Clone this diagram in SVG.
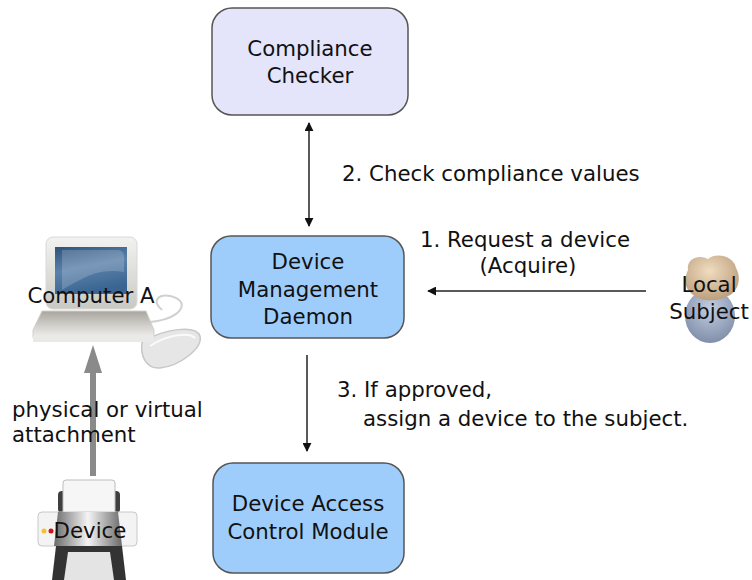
<svg xmlns="http://www.w3.org/2000/svg" width="752" height="580" viewBox="0 0 752 580">
  <defs>
    <style>
      .lbl { font-family: "DejaVu Sans", "Liberation Sans", sans-serif; font-size: 21.3px; fill: #111; }
      .mid { text-anchor: middle; }
      .box { stroke: #555; stroke-width: 1.5; }
      .conn { stroke: #222; stroke-width: 1.5; fill: none; }
    </style>
    <marker id="arr" viewBox="0 0 10 10" refX="9" refY="5" markerWidth="9" markerHeight="9" markerUnits="userSpaceOnUse" orient="auto-start-reverse">
      <path d="M0,0 L10,5 L0,10 z" fill="#111"/>
    </marker>
    <linearGradient id="screen" x1="0" y1="0" x2="0.3" y2="1">
      <stop offset="0" stop-color="#2e527c"/>
      <stop offset="0.5" stop-color="#5d82aa"/>
      <stop offset="1" stop-color="#3a6592"/>
    </linearGradient>
    <linearGradient id="bezel" x1="0" y1="0" x2="0" y2="1">
      <stop offset="0" stop-color="#f2f2f0"/>
      <stop offset="1" stop-color="#c9c9c4"/>
    </linearGradient>
    <linearGradient id="kbd" x1="0" y1="0" x2="0" y2="1">
      <stop offset="0" stop-color="#a9a59e"/>
      <stop offset="0.6" stop-color="#d6d4d0"/>
      <stop offset="1" stop-color="#f0f0ee"/>
    </linearGradient>
    <linearGradient id="drum" x1="0" y1="0" x2="1" y2="0">
      <stop offset="0" stop-color="#6a6a6a"/>
      <stop offset="0.5" stop-color="#f4f4f4"/>
      <stop offset="1" stop-color="#6a6a6a"/>
    </linearGradient>
    <radialGradient id="head" cx="0.45" cy="0.35" r="0.7">
      <stop offset="0" stop-color="#f1dcc0"/>
      <stop offset="1" stop-color="#b89b78"/>
    </radialGradient>
    <radialGradient id="body" cx="0.5" cy="0.35" r="0.7">
      <stop offset="0" stop-color="#c3cde0"/>
      <stop offset="1" stop-color="#7c8aa6"/>
    </radialGradient>
  </defs>
  <rect width="752" height="580" fill="#fff"/>

  <!-- Computer A clip art -->
  <g id="computer">
    <path d="M150,322 C185,318 190,300 170,296 C160,294 150,300 162,310" fill="none" stroke="#d0d0d0" stroke-width="2"/>
    <path d="M142,342 C165,328 196,325 200,336 C203,348 180,366 160,368 C146,369 140,356 142,342 z" fill="#e6e6e6" stroke="#c7c7c7" stroke-width="1.5"/>
    <path d="M150,346 C168,334 190,332 195,338" fill="none" stroke="#fafafa" stroke-width="2"/>
    <rect x="46" y="237" width="91" height="72" rx="7" fill="url(#bezel)" stroke="#d8d8d6"/>
    <rect x="55" y="247" width="72" height="47" fill="url(#screen)"/>
    <path d="M62,250 H118 Q124,250 124,258 V272 Q100,268 80,280 Q68,286 62,290 z" fill="#ffffff" fill-opacity="0.18"/>
    <path d="M42,311 L146,311 L154,330 L154,338 L33,338 L33,330 z" fill="url(#kbd)" stroke="#d0d0cc"/>
    <rect x="33" y="336" width="121" height="6" fill="#e9e9e7"/>
  </g>

  <!-- Printer clip art -->
  <g id="device">
    <rect x="58" y="491" width="62" height="22" rx="4" fill="#3f3f3f"/>
    <rect x="63" y="480" width="52" height="36" rx="3" fill="#f6f6f6" stroke="#bdbdbd"/>
    <rect x="38" y="512" width="99" height="34" rx="4" fill="#f3f3f3" stroke="#c8c8c8"/>
    <path d="M58,512 L118,512 L122,546 L54,546 z" fill="url(#drum)"/>
    <circle cx="44" cy="531" r="2.5" fill="#f2c230"/>
    <circle cx="51" cy="531" r="2.5" fill="#d0141e"/>
    <path d="M56,546 L122,546 L126,580 L52,580 z" fill="#333"/>
    <path d="M68,552 L110,552 L114,580 L64,580 z" fill="#e4e4e4"/>
  </g>

  <!-- Local Subject icon -->
  <g id="subject">
    <ellipse cx="710" cy="316" rx="25" ry="27" fill="url(#body)"/>
    <path d="M688,270 C686,258 700,254 708,259 C716,252 734,256 736,268 C742,278 738,292 728,296 C718,302 700,302 692,294 C684,288 684,278 688,270 z" fill="url(#head)"/>
  </g>

  <!-- Connectors -->
  <g id="connectors">
    <line class="conn" x1="309" y1="123" x2="309" y2="226" marker-start="url(#arr)" marker-end="url(#arr)" stroke="#444"/>
    <line class="conn" x1="307" y1="355" x2="307" y2="451" marker-end="url(#arr)"/>
    <line class="conn" x1="646" y1="291" x2="428" y2="291" marker-end="url(#arr)" stroke="#333"/>
    <line x1="93" y1="476" x2="93" y2="368" stroke="#8a8a8a" stroke-width="6"/>
    <path d="M93,345 L102,373 L84,373 z" fill="#8a8a8a"/>
  </g>

  <!-- Nodes -->
  <g id="compliance-checker">
    <rect class="box" x="212" y="8" width="196" height="107" rx="20" fill="#e4e4fa"/>
    <text class="lbl mid" x="310" y="56">Compliance</text>
    <text class="lbl mid" x="310" y="83">Checker</text>
  </g>
  <g id="device-management-daemon">
    <rect class="box" x="211" y="236" width="193" height="102" rx="20" fill="#9fcdfb"/>
    <text class="lbl mid" x="308" y="269">Device</text>
    <text class="lbl mid" x="308" y="297">Management</text>
    <text class="lbl mid" x="308" y="324">Daemon</text>
  </g>
  <g id="device-access-control-module">
    <rect class="box" x="213" y="463" width="191" height="110" rx="20" fill="#9fcdfb"/>
    <text class="lbl mid" x="308" y="511">Device Access</text>
    <text class="lbl mid" x="308" y="539">Control Module</text>
  </g>

  <!-- Labels -->
  <text class="lbl" x="342" y="181">2. Check compliance values</text>
  <text class="lbl mid" x="525" y="247">1. Request a device</text>
  <text class="lbl mid" x="528" y="273">(Acquire)</text>
  <text class="lbl" x="337" y="397">3. If approved,</text>
  <text class="lbl" x="363" y="426">assign a device to the subject.</text>
  <text class="lbl" x="12" y="417">physical or virtual</text>
  <text class="lbl" x="12" y="442">attachment</text>
  <text class="lbl mid" x="91" y="303">Computer A</text>
  <text class="lbl mid" x="90" y="538">Device</text>
  <text class="lbl mid" x="709" y="292">Local</text>
  <text class="lbl mid" x="709" y="319">Subject</text>
</svg>
